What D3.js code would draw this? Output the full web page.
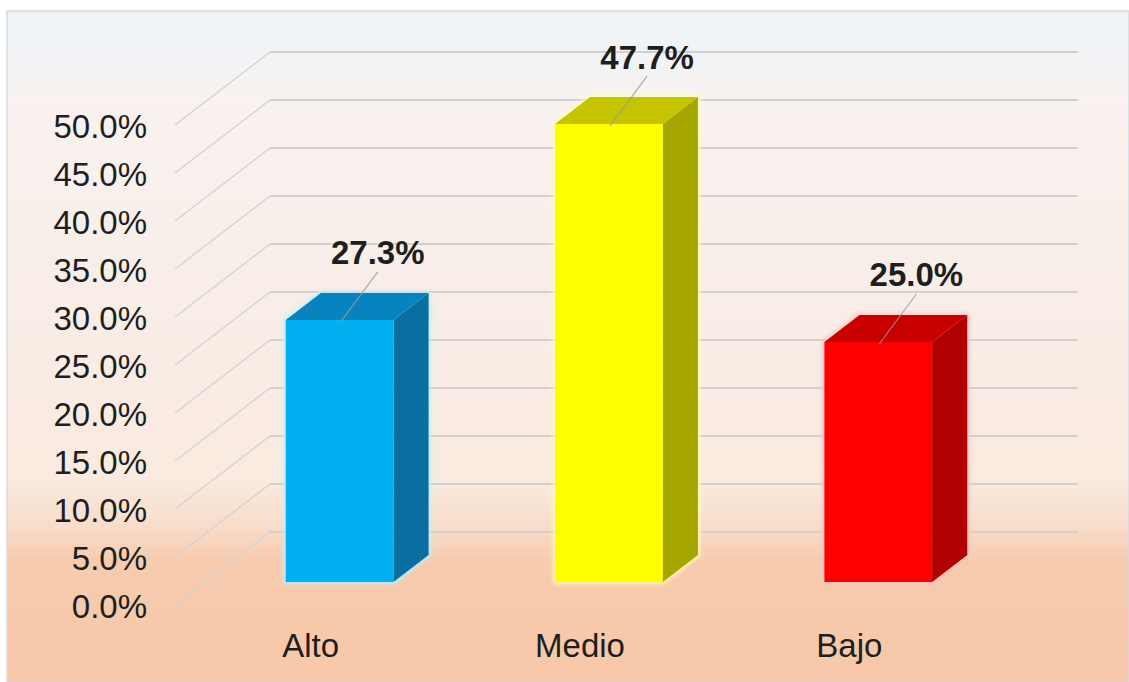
<!DOCTYPE html>
<html>
<head>
<meta charset="utf-8">
<script src="https://cdn.jsdelivr.net/npm/d3@7"></script>
<style>
  html, body { margin: 0; padding: 0; background: #ffffff; }
  svg { display: block; }
  text { font-family: "Liberation Sans", Arial, sans-serif; }
</style>
</head>
<body>
<svg id="chart" width="1129" height="682"></svg>
<script>
// Nivel alcanzado: porcentaje por categoría
const categories = ["Alto", "Medio", "Bajo"];
const values = [0.273, 0.477, 0.250];
const tickValues = [0, 0.05, 0.10, 0.15, 0.20, 0.25, 0.30, 0.35, 0.40, 0.45, 0.50];

// colour sets per bar: front, side, top
const palette = [
  { front: "#00b0f0", side: "#0a6fa0", top: "#0784bf", glow: "#bff0ff" },
  { front: "#ffff00", side: "#a6a600", top: "#c4c400", glow: "#ffffb0" },
  { front: "#ff0000", side: "#b00000", top: "#c90000", glow: "#ffc0c0" }
];

const W = 1129, H = 682;
const svg = d3.select("#chart");
const defs = svg.append("defs");

// background panel gradient
const bg = defs.append("linearGradient").attr("id", "bg")
  .attr("x1", 0).attr("y1", 0).attr("x2", 0).attr("y2", 1);
[["0%", "#eff4f8"], ["5%", "#f1f4f7"], ["13%", "#f8f2f0"], ["45%", "#f8ede7"],
 ["70%", "#faeadf"], ["77%", "#f8dcc9"], ["82%", "#f6cbae"], ["100%", "#f6c8a9"]]
  .forEach(([o, c]) => bg.append("stop").attr("offset", o).attr("stop-color", c));

const soft = defs.append("filter").attr("id", "soft")
  .attr("x", "-5%").attr("y", "-5%").attr("width", "110%").attr("height", "110%");
soft.append("feGaussianBlur").attr("stdDeviation", 0.6);

const glow = defs.append("filter").attr("id", "glow")
  .attr("x", "-20%").attr("y", "-20%").attr("width", "140%").attr("height", "140%");
glow.append("feGaussianBlur").attr("stdDeviation", 2);

svg.append("rect").attr("x", 7).attr("y", 11).attr("width", W - 7).attr("height", H - 11)
  .attr("fill", "url(#bg)").attr("stroke", "#d9dadc").attr("stroke-width", 1.5);

// 3D frame: front plane scales plus a depth offset
const DX = 95, DY = 73;
const y = d3.scaleLinear().domain([0, 0.5]).range([605, 125]);
const x = d3.scaleBand().domain(categories).range([175, 983]).padding(0);
const barFrac = 0.4;
const zF = 0.315, zB = 0.685;
const P = (px, v, z) => [px + z * DX, y(v) - z * DY];

const x0 = x.range()[0], x1 = x.range()[1];

// gridlines: left wall diagonals and back wall horizontals
const grid = svg.append("g").attr("filter", "url(#soft)");
grid.selectAll("line.diag").data(tickValues).join("line")
  .attr("class", "diag")
  .attr("x1", d => P(x0, d, 0)[0]).attr("y1", d => P(x0, d, 0)[1])
  .attr("x2", d => P(x0, d, 1)[0]).attr("y2", d => P(x0, d, 1)[1])
  .attr("stroke", "#d3d3d3").attr("stroke-width", 1.3);
grid.selectAll("line.back").data(tickValues).join("line")
  .attr("class", "back")
  .attr("x1", d => P(x0, d, 1)[0]).attr("y1", d => P(x0, d, 1)[1])
  .attr("x2", d => P(x1, d, 1)[0]).attr("y2", d => P(x1, d, 1)[1])
  .attr("stroke", "#d1d1d1").attr("stroke-width", 2.2);

// y axis labels
const fmt = d3.format(".1%");
svg.append("g").selectAll("text").data(tickValues).join("text")
  .attr("x", 147).attr("y", d => y(d) + 1)
  .attr("text-anchor", "end").attr("dominant-baseline", "central")
  .attr("font-size", 33).attr("fill", "#1e1e1e")
  .text(d => fmt(d));

// bars
const bars = categories.map((c, i) => {
  const bw = x.bandwidth() * barFrac;
  const left = x(c) + (x.bandwidth() - bw) / 2;
  return { c, v: values[i], left, right: left + bw, col: palette[i] };
});

const poly = pts => pts.map(p => p.join(",")).join(" ");
const gBars = svg.append("g");
bars.forEach(b => {
  const g = gBars.append("g");
  const fbl = P(b.left, 0, zF), fbr = P(b.right, 0, zF);
  const ftl = P(b.left, b.v, zF), ftr = P(b.right, b.v, zF);
  const bbr = P(b.right, 0, zB), btr = P(b.right, b.v, zB), btl = P(b.left, b.v, zB);
  const outline = [fbl, ftl, btl, btr, bbr, fbr];
  g.append("polygon").attr("points", poly(outline))
    .attr("fill", "none").attr("stroke", b.col.glow).attr("stroke-width", 4)
    .attr("stroke-linejoin", "round").attr("filter", "url(#glow)");
  g.append("polygon").attr("points", poly([fbr, ftr, btr, bbr])).attr("fill", b.col.side);
  g.append("polygon").attr("points", poly([ftl, btl, btr, ftr])).attr("fill", b.col.top);
  g.append("polygon").attr("points", poly([fbl, ftl, ftr, fbr])).attr("fill", b.col.front);
});

// value labels with leader lines
const pct = d3.format(".1%");
bars.forEach(b => {
  const backTop = P((b.left + b.right) / 2, b.v, zB);
  const frontTop = P((b.left + b.right) / 2, b.v, zF);
  const lx = backTop[0] + 3, ly = backTop[1] - 40;
  svg.append("line")
    .attr("x1", lx).attr("y1", ly + 19)
    .attr("x2", frontTop[0] + 1).attr("y2", frontTop[1] + 2)
    .attr("stroke", "#9a9a9a").attr("stroke-opacity", 0.8).attr("stroke-width", 1.2);
  svg.append("text")
    .attr("x", lx).attr("y", ly)
    .attr("text-anchor", "middle").attr("dominant-baseline", "central")
    .attr("font-size", 33).attr("font-weight", "bold").attr("fill", "#1e1e1e")
    .text(pct(b.v));
});

// category labels on the front plane
svg.append("g").selectAll("text").data(categories).join("text")
  .attr("x", d => x(d) + x.bandwidth() / 2 + 1)
  .attr("y", 645)
  .attr("text-anchor", "middle").attr("dominant-baseline", "central")
  .attr("font-size", 33).attr("fill", "#1e1e1e")
  .text(d => d);
</script>
</body>
</html>
